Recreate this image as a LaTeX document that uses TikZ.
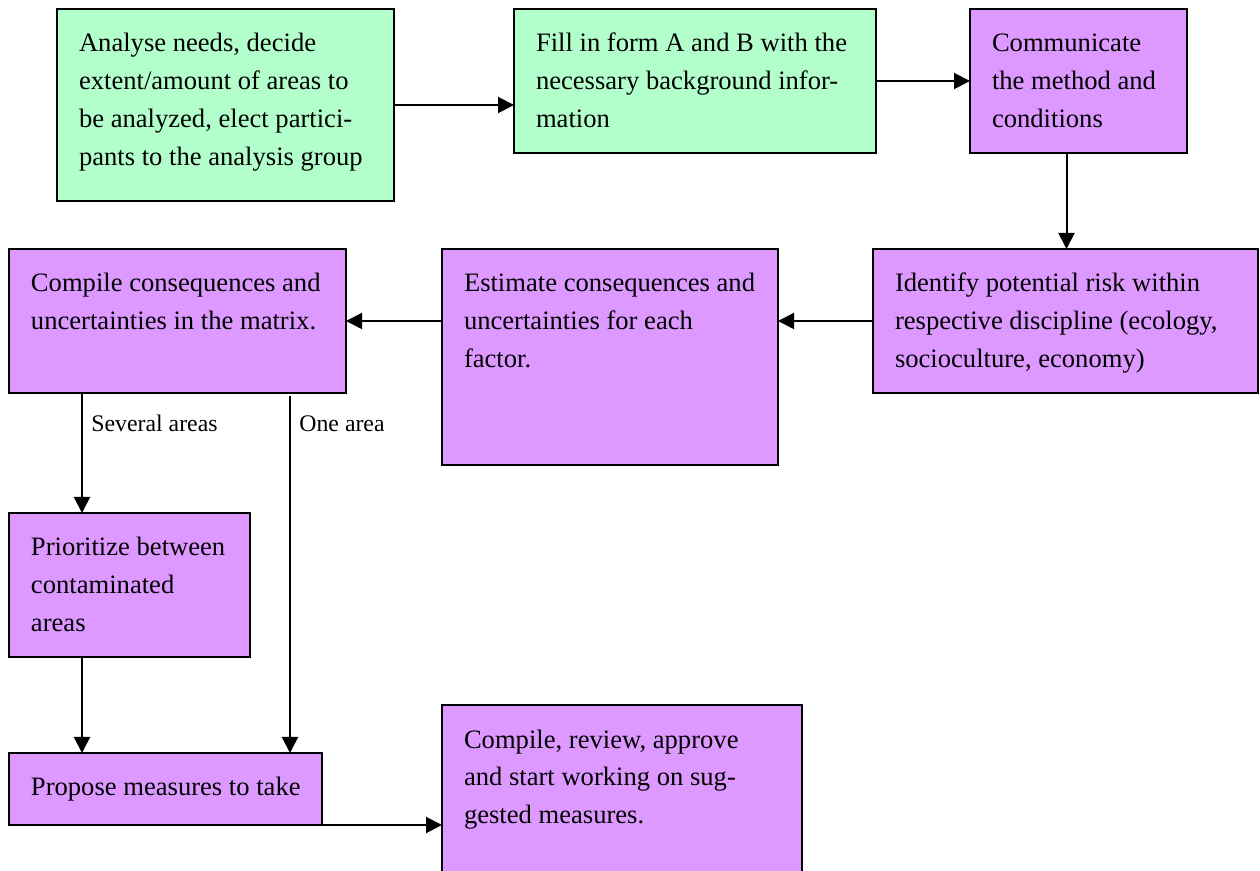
\documentclass[tikz,border=0pt]{standalone}
\usepackage{fontspec}
\setmainfont{Liberation Serif}
\usetikzlibrary{arrows.meta}
\definecolor{boxgreen}{RGB}{179,255,204}
\definecolor{boxpurple}{RGB}{221,153,255}
\newcommand\mkbox[7]{%
  \node[boxst, fill=#6, minimum width=#4*0.5pt, minimum height=#5*0.5pt, anchor=north west] (#1) at (#2,#3) {};
  \node[txt] (#1t) at ([shift={(22,16.4)}]#1.north west) {\strut #7};}
\tikzset{
  boxst/.style={draw=black, line width=1.1pt, inner sep=0pt, outer sep=0pt},
  txt/.style={anchor=north west, inner sep=0pt, outer sep=0pt, align=left, font=\fontsize{13.3}{19}\selectfont},
  lbl/.style={anchor=base west, inner sep=0pt, font=\fontsize{11.9}{14}\selectfont},
  conn/.style={line width=1pt, -{Triangle[length=8pt,width=8pt]}},
  plain/.style={line width=1pt}
}
\begin{document}
\begin{tikzpicture}[x=0.5pt,y=-0.5pt]
\useasboundingbox (0,0) rectangle (1260,871);
\clip (0,0) rectangle (1260,871);
\mkbox{b1}{57}{9}{337}{192}{boxgreen}{Analyse needs, decide\\extent/amount of areas to\\be analyzed, elect partici-\\pants to the analysis group}
\mkbox{b2}{514}{9}{362}{144}{boxgreen}{Fill in form A and B with the\\necessary background infor-\\mation}
\mkbox{b3}{970}{9}{217}{144}{boxpurple}{Communicate\\the method and\\conditions}
\mkbox{b4}{873}{249}{385}{144}{boxpurple}{Identify potential risk within\\respective discipline (ecology,\\socioculture, economy)}
\mkbox{b5}{442}{249}{336}{216}{boxpurple}{Estimate consequences and\\uncertainties for each\\factor.}
\mkbox{b6}{9}{249}{337}{144}{boxpurple}{Compile consequences and\\uncertainties in the matrix.}
\mkbox{b7}{9}{513}{241}{144}{boxpurple}{Prioritize between\\contaminated\\areas}
\mkbox{b8}{9}{753}{313}{72}{boxpurple}{Propose measures to take}
\mkbox{b9}{442}{705}{360}{190}{boxpurple}{Compile, review, approve\\and start working on sug-\\gested measures.}
% connectors
\draw[conn] (b1.east) -- (b1.east -| b2.west);
\draw[conn] (b2.east |- b3.west) -- (b3.west);
\coordinate (c3) at ([xshift=-12*0.5pt]b3.south);
\draw[conn] (c3) -- (c3 |- b4.north);
\draw[conn] (b4.west) -- (b4.west -| b5.east);
\draw[conn] (b5.west |- b6.east) -- (b6.east);
\coordinate (sa) at ([xshift=73*0.5pt]b6.south west);
\coordinate (oa) at ([shift={(281,3)}]b6.south west);
\draw[conn] (sa) -- (sa |- b7.north);
\draw[conn] (oa) -- (oa |- b8.north);
\node[lbl] (lsa) at ([shift={(9,39)}]b6.south west -| sa) {Several areas};
\node[lbl] (loa) at ([shift={(9,39)}]b6.south west -| oa) {One area};
\draw[conn] (sa |- b7.south) -- (sa |- b8.north);
\draw[conn] (b8.south east) -- (b8.south east -| b9.west);
\end{tikzpicture}
\end{document}
